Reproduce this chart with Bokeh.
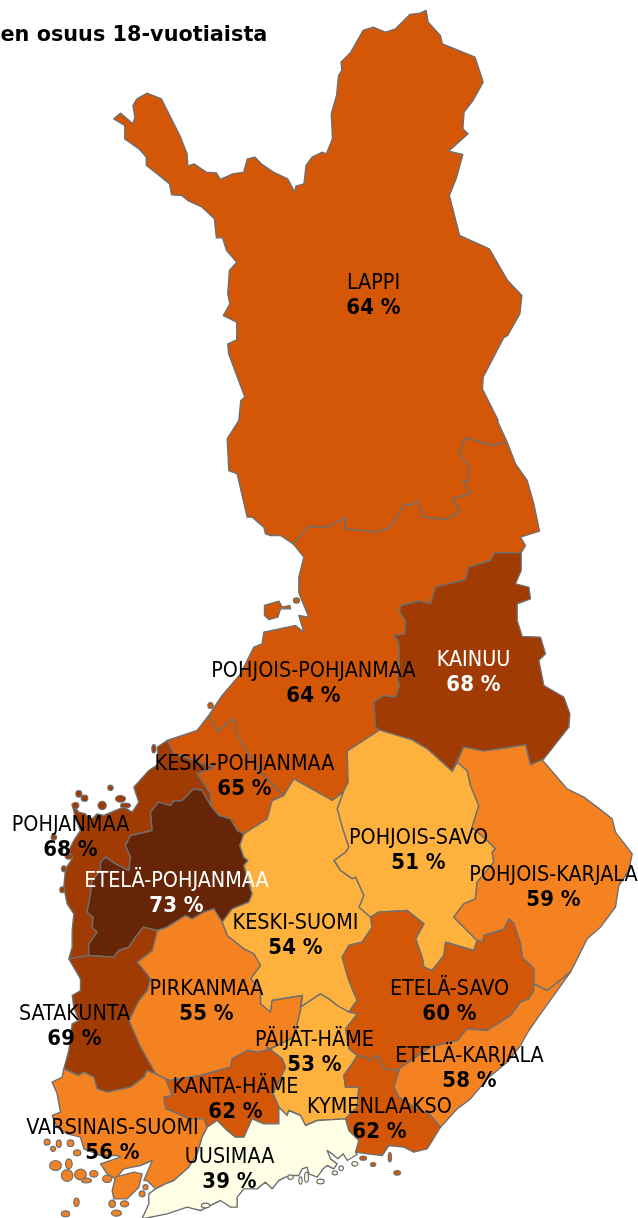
from bokeh.plotting import figure
from bokeh.models import Range1d, ColumnDataSource
from bokeh.core.properties import value
from bokeh.embed import file_html
from bokeh.resources import INLINE

TITLE = "en osuus 18-vuotiaista"
REGIONS = ["LAPPI","POHJOIS-POHJANMAA","KAINUU","KESKI-POHJANMAA","POHJANMAA","ETELÄ-POHJANMAA","POHJOIS-SAVO",
           "POHJOIS-KARJALA","KESKI-SUOMI","ETELÄ-SAVO","PIRKANMAA","SATAKUNTA","PÄIJÄT-HÄME","ETELÄ-KARJALA",
           "KANTA-HÄME","KYMENLAAKSO","VARSINAIS-SUOMI","UUSIMAA"]
SHARES = [64,64,68,65,68,73,51,59,54,60,55,69,53,58,62,62,56,39]
LABEL_X = [373,313,473,244,70,176,418,553,295,449,206,74,314,469,235,379,112,229]
LABEL_Y = [281,669,658,762,823,879,836,873,921,987,987,1012,1038,1054,1085,1105,1126,1155]
COLOR_BINS = [(70,"#662506"),(66,"#A03B03"),(60,"#D35706"),(55,"#F58220"),(50,"#FEB13D"),(0,"#FFFFE5")]

def c1(p): return [(x/2.455, y/3) for x,y in p]
def c2(p): return [(200+x/3, 420+y/3) for x,y in p]
def c3(p): return [(x/3, 730+y/3) for x,y in p]
def c4(p): return [(320+x/3, 730+y/3) for x,y in p]
def c5(p): return [(x/3, 980+y/3) for x,y in p]
def c6(p): return [(200+x/3, 980+y/3) for x,y in p]

LAPPI_TOP = c1([(278,355),(295,338),(325,370),(330,350),(325,315),(335,295),(360,278),(395,295),(442,410),(458,460),(460,497),(475,490),(505,515),(530,517),(540,537),(570,520),(597,515),(606,475),(625,470),(640,490),(670,515),(705,535),(722,575),(725,557),(745,550),(750,495),(765,470),(790,455),(800,460),(815,415),(812,340),(825,285),(830,225),(838,210),(836,185),(860,155),(890,90),(915,80),(945,95),(970,85),(990,60),(1005,42),(1030,38),(1045,30),(1050,65),(1080,105),(1085,130),(1165,170),(1185,245),(1160,300),(1138,335),(1135,385),(1148,400),(1100,452),(1135,462),(1120,530),(1102,585),(1127,705),(1200,745),(1245,840),(1280,885),(1275,940),(1245,1005),(1235,1012),(1185,1130),(1183,1165),(1222,1260)])
LAPPI_LEFT = c1([(585,1260),(590,1200),(600,1190),(560,1060),(558,1030),(580,1018),(580,965),(547,945),(563,910),(558,880),(562,810),(580,785),(555,750),(545,712),(530,712),(525,655),(495,620),(460,600),(445,585),(420,583),(415,550),(385,520),(358,495),(358,470),(340,445),(305,415),(305,375)])
LAPPI_COAST = c2([(278,370),(240,345),(210,345),(195,340),(190,320),(155,290),(140,290),(110,160),(85,150),(80,55),(115,0)])
LAPPI_PP = c2([(890,0),(920,65),(875,75),(795,52),(775,100),(805,135),(803,180),(788,185),(810,215),(790,225),(755,235),(778,275),(735,297),(668,290),(650,240),(630,255),(613,250),(568,322),(530,335),(433,325),(433,292),(380,320),(325,318),(278,370)])
PP_EAST = c2([(920,65),(945,130),(980,180),(1000,250),(1017,332),(960,350),(975,375),(962,397)])
PP_KAINUU = c2([(962,397),(882,397),(870,420),(805,440),(795,477),(705,500),(690,550),(655,542),(600,555),(597,575),(615,600),(612,640),(580,645),(595,665),(597,750),(590,770),(597,795),(585,830),(550,825),(520,845),(525,920),(535,928)])
PP_SAVO = c4([(175,0),(80,62),(83,155),(68,185),(35,210),(0,190)]) + c3([(880,145)])
KP_NORTH = c3([(850,195),(780,125),(730,50),(705,0)]) + c2([(105,905),(90,895),(75,915),(50,935),(25,885)])
PP_COAST = c2([(25,885),(65,825),(120,760),(160,680),(185,670),(190,635),(285,615),(310,635),(295,585),(325,590),(300,530),(295,515),(295,470),(310,410),(278,370)])
HAILUOTO = c2([(192,555),(235,542),(245,560),(268,555),(270,565),(240,565),(232,590),(205,597),(192,585)])
KAINUU_EAST = c2([(535,928),(635,958),(680,985),(755,1052),(790,980),(850,992),(975,973),(990,1033),(1030,1015),(1105,920),(1108,880),(1090,830),(1030,795),(1015,720),(1035,700),(1020,650),(965,648),(950,600),(950,550),(990,535),(985,500),(945,490),(962,450),(962,397)])
KP_EP = c3([(730,310),(710,300),(690,265),(655,255),(630,225)])
KP_POHJ = c3([(630,225),(630,190),(590,130),(640,110),(520,70),(500,30)])
KP_COAST = c3([(500,30),(590,0)])
KS_NORTH = c3([(850,195),(815,210),(800,265),(730,310)])
EP_WEST = c3([(205,685),(265,675),(265,640),(290,605),(275,590),(278,560),(260,545),(270,490),(275,450),(300,420),(300,395),(315,380),(345,400),(385,420),(390,380),(375,345),(390,315),(455,300),(450,245),(475,215),(510,225),(520,212),(545,210),(580,175),(605,180),(630,225)])
EP_EAST = c3([(730,310),(718,345),(730,380),(742,390),(730,405),(755,490),(745,515),(695,535),(665,575)])
EP_SOUTH = c3([(665,575),(640,535),(610,545),(575,565),(555,555),(500,590),(470,600),(428,590),(405,620),(385,650),(355,660),(340,680),(265,675)])
POHJANMAA_COAST = c3([(500,30),(470,50),(475,100),(445,120),(400,170),(415,215),(395,245),(370,230),(345,240),(310,255),(290,250),(270,270),(255,250),(235,245),(215,220),(225,265),(240,300),(220,330),(205,360),(215,385),(195,415),(190,470),(200,520),(220,550),(215,600),(215,650),(205,685)])
SAT_EP = EP_SOUTH[6:][::-1]
SAT_PIRK_N = c3([(470,600),(455,660),(410,695),(450,745),(440,780)])
SAT_PIRK = c5([(440,30),(415,60),(385,120),(420,200),(440,235),(465,280)])
SAT_VS = c5([(465,280),(440,270),(430,290),(390,320),(320,335),(290,325),(280,290),(250,275),(235,285),(190,265)])
SAT_COAST = c5([(190,265),(205,210),(215,130),(235,120),(220,80),(215,45),(240,30)]) + c3([(240,745),(205,685)])
PIRK_KS = c3([(665,575),(680,615),(730,655),(760,670),(780,705),(750,745),(780,775)]) + c5([(780,70),(810,95),(815,60),(905,45)])
PIRK_PH = c5([(905,45),(900,90),(880,170),(800,210)])
PIRK_KH = c5([(800,210),(770,215),(740,210),(695,235),(690,260),(600,285),(510,300),(495,295)])
VS_PIRK = c5([(495,295),(465,280)])
PSAVO_WEST = c4([(68,185),(50,235),(65,290),(85,350),(75,365),(40,390),(60,420),(95,445),(105,440),(130,495),(115,530),(150,560)])
ESAVO_NORTH = c4([(150,560),(175,545),(260,540),(310,580),(285,625),(305,680),(310,710),(335,720),(370,675),(375,635),(460,660),(470,630)])
PSAVO_EAST = c4([(470,630),(400,560),(430,520),(465,505),(470,455),(520,395),(515,365),(525,355),(500,330),(455,290),(475,225),(450,165),(440,120),(410,95),(395,122)])
PK_TOP = c4([(395,122),(410,95),(430,48)]) + c2([(790,980),(850,992),(975,973),(990,1033),(1030,1015)])
PK_COAST = c4([(665,88),(740,175),(790,200),(830,230),(875,265),(885,305),(935,370),(925,420),(895,465),(885,530),(840,590),(800,625),(750,725)])
PK_ESAVO = c4([(470,630),(487,635),(490,615),(550,597),(565,565),(580,580),(600,640),(605,680),(640,715),(640,760)])
PK_EK = c4([(750,725),(680,780),(640,760)])
ESAVO_EK = c6([(1000,30),(985,55),(960,65),(930,105),(860,150),(800,145),(770,180),(690,200),(595,265)])
ESAVO_KYM = c6([(595,270),(550,265),(530,225),(510,240),(495,230),(470,225)])
ESAVO_PH = c6([(470,225),(445,205),(435,145),(470,100),(445,95)])
KS_ESAVO = c6([(445,95),(470,60),(445,0)]) + c4([(65,680),(85,645),(125,635),(155,590),(150,560)])
KS_PH = c6([(445,95),(410,75),(385,55),(360,40),(300,80),(305,45)])
EK_COAST = c4([(750,725)]) + c6([(1020,100),(985,150),(960,195),(920,245),(860,295),(810,355),(770,385),(720,440)])
EK_KYM = c6([(720,440),(685,400),(640,380),(595,350),(580,320),(595,270)])
KYM_COAST = c6([(720,440),(680,505),(640,515),(610,500),(565,495),(545,525),(500,520),(465,515)])
KYM_UUSI = c6([(465,515),(475,480),(445,450),(435,415)])
KYM_PH = c6([(435,415),(470,380),(475,320),(435,320),(430,285),(455,250),(470,225)])
PH_SOUTH = c6([(435,415),(350,420),(315,435),(300,405),(265,390),(260,405),(235,380)])
PH_KH = c6([(235,380),(220,345),(215,345),(255,260),(245,235),(200,200)])
KH_UUSI = c6([(235,380)]) + c5([(835,430),(790,430),(755,415),(730,470),(705,470),(680,450),(650,420),(620,440)])
KH_VS = c5([(620,440),(610,415),(565,415),(510,390),(495,385),(490,350),(515,345),(495,295)])
VS_UUSI = c5([(620,440),(605,470),(590,520),(565,560),(520,600),(495,610),(465,625)])
VS_COAST = c5([(465,625),(440,600),(430,600),(455,540),(420,555),(370,565),(345,595),(320,580),(300,550),(360,530),(350,525),(300,525),(250,505),(240,470),(200,460),(170,440),(155,405),(180,395),(170,340),(155,305),(185,290),(190,265)])
VS_BIG_ISLAND = c5([(345,590),(400,575),(425,580),(415,620),(380,655),(340,655),(335,630)])
UUSI_COAST = c6([(465,515),(470,522),(440,540),(428,520),(412,535),(395,520),(380,510),(390,535),(410,550),(400,565),(380,555),(368,565),(350,590),(325,580),(320,560),(305,565),(295,585),(270,585),(255,590),(235,600),(215,625),(195,605),(170,625),(130,625),(110,650),(110,680),(90,680),(60,660),(20,680),(0,690)]) + c5([(560,680),(500,700),(430,714),(425,714),(445,670),(445,640),(465,625)])

ISL_POHJ = c3([(235,190),(252,203),(330,172),(360,205),(375,225),(305,225),(460,55),(225,225),(160,320),(205,378),(190,415),(185,478),(245,345),(180,360)])
ISL_POHJ_WH = [(18,20),(20,18),(16,16),(30,20),(30,14),(25,25),(12,25),(20,18),(16,16),(22,16),(14,18),(14,18),(14,14),(14,14)]
ISL_VS = c5([(140,485),(175,490),(210,488),(158,505),(230,517),(165,555),(205,550),(200,585),(240,582),(280,580),(258,600),(320,595),(228,665),(195,700),(335,670),(372,670),(348,698),(435,620),(425,640)])
ISL_VS_WH = [(18,18),(15,22),(20,20),(15,15),(22,18),(35,30),(20,30),(35,35),(35,32),(25,20),(30,14),(28,22),(16,25),(25,18),(20,22),(25,18),(30,18),(15,15),(18,18)]
ISL_KYM = c6([(488,533),(518,552),(568,530),(590,577)])
ISL_KYM_WH = [(20,12),(16,12),(10,28),(20,14)]
ISL_UUSI = c6([(463,550),(403,577),(422,563),(360,603),(300,600),(318,590),(270,590),(15,675)])
ISL_UUSI_WH = [(18,14),(16,12),(14,14),(22,14),(10,22),(12,30),(16,14),(25,14)]
ISL_PP = c2([(288,540),(30,855)])
ISL_PP_WH = [(18,16),(16,18)]

OUTLINES = {
 "LAPPI": LAPPI_TOP + LAPPI_PP + LAPPI_COAST + LAPPI_LEFT,
 "POHJOIS-POHJANMAA": LAPPI_PP[1:][::-1] + PP_EAST + PP_KAINUU + PP_SAVO + KP_NORTH + PP_COAST,
 "KAINUU": PP_KAINUU + KAINUU_EAST,
 "KESKI-POHJANMAA": KP_COAST + KP_NORTH[::-1] + KS_NORTH + KP_EP + KP_POHJ,
 "POHJANMAA": POHJANMAA_COAST + EP_WEST + KP_POHJ,
 "ETELÄ-POHJANMAA": EP_WEST[1:] + KP_EP[::-1] + EP_EAST + EP_SOUTH,
 "POHJOIS-SAVO": PP_SAVO[:4] + PSAVO_WEST + ESAVO_NORTH + PSAVO_EAST + KAINUU_EAST[:4][::-1],
 "POHJOIS-KARJALA": PSAVO_EAST + PK_TOP + PK_COAST + PK_EK + PK_ESAVO[::-1],
 "KESKI-SUOMI": KS_NORTH + EP_EAST + PIRK_KS + KS_PH[::-1] + KS_ESAVO + PSAVO_WEST[::-1] + PP_SAVO[4:],
 "ETELÄ-SAVO": ESAVO_NORTH + PK_ESAVO + ESAVO_EK + ESAVO_KYM + ESAVO_PH + KS_ESAVO,
 "PIRKANMAA": SAT_PIRK_N + SAT_PIRK + VS_PIRK[::-1] + PIRK_KH[::-1] + PIRK_PH[::-1] + PIRK_KS[::-1] + EP_SOUTH[:7],
 "SATAKUNTA": SAT_EP + SAT_PIRK_N + SAT_PIRK + SAT_VS + SAT_COAST,
 "PÄIJÄT-HÄME": KS_PH + PIRK_PH + PH_KH[::-1] + PH_SOUTH[::-1] + KYM_PH + ESAVO_PH,
 "ETELÄ-KARJALA": ESAVO_EK[::-1] + PK_EK[::-1] + EK_COAST + EK_KYM,
 "KANTA-HÄME": PIRK_KH + KH_VS[::-1] + KH_UUSI[::-1] + PH_KH,
 "KYMENLAAKSO": ESAVO_KYM + KYM_PH[::-1] + KYM_UUSI[::-1] + KYM_COAST[::-1] + EK_KYM,
 "VARSINAIS-SUOMI": SAT_VS[::-1] + VS_PIRK[::-1] + KH_VS[::-1] + VS_UUSI + VS_COAST,
 "UUSIMAA": KH_UUSI + VS_UUSI + UUSI_COAST[::-1] + KYM_UUSI + PH_SOUTH,
}

def fill_for(v):
    for lim, col in COLOR_BINS:
        if v >= lim:
            return col

p = figure(width=638, height=1218, x_range=Range1d(0,638), y_range=Range1d(1218,0), output_backend="svg",
           toolbar_location=None, min_border=0, outline_line_color=None,
           styles={"position":"fixed","left":"0px","top":"0px"})
p.axis.visible = False
p.grid.visible = False

extra = [(HAILUOTO, 64), (VS_BIG_ISLAND, 56)]
xs = [[q[0] for q in OUTLINES[r]] for r in REGIONS] + [[q[0] for q in e[0]] for e in extra]
ys = [[q[1] for q in OUTLINES[r]] for r in REGIONS] + [[q[1] for q in e[0]] for e in extra]
fills = [fill_for(v) for v in SHARES] + [fill_for(e[1]) for e in extra]
p.patches(xs, ys, fill_color=fills, line_color="#6F6F6F", line_width=1.4, line_join="round")

for pts, wh, share in [(ISL_POHJ, ISL_POHJ_WH, 68), (ISL_VS, ISL_VS_WH, 56), (ISL_KYM, ISL_KYM_WH, 62),
                       (ISL_UUSI, ISL_UUSI_WH, 39), (ISL_PP, ISL_PP_WH, 64)]:
    p.ellipse([q[0] for q in pts], [q[1] for q in pts], width=[w/3 for w,h in wh], height=[h/3 for w,h in wh],
              fill_color=fill_for(share), line_color="#6F6F6F", line_width=1.2)

src = ColumnDataSource(dict(x=LABEL_X, y=LABEL_Y, y2=[y+25 for y in LABEL_Y], name=REGIONS,
    pct=[f"{v} %" for v in SHARES], col=["#FFFFFF" if r in ("KAINUU","ETELÄ-POHJANMAA") else "#000000" for r in REGIONS]))
p.text("x","y",text="name",source=src,text_color="col",text_align="center",text_baseline="middle",
       text_font=value("DejaVu Sans Condensed"),text_font_size="21.4px")
p.text("x","y2",text="pct",source=src,text_color="col",text_align="center",text_baseline="middle",
       text_font=value("DejaVu Sans Condensed"),text_font_style="bold",text_font_size="22px")
p.text([0],[33],text=[TITLE],text_color="#000000",text_align="left",text_baseline="middle",
       text_font=value("DejaVu Sans"),text_font_style="bold",text_font_size="20.8px")

open("out.html","w").write(file_html(p, INLINE))
